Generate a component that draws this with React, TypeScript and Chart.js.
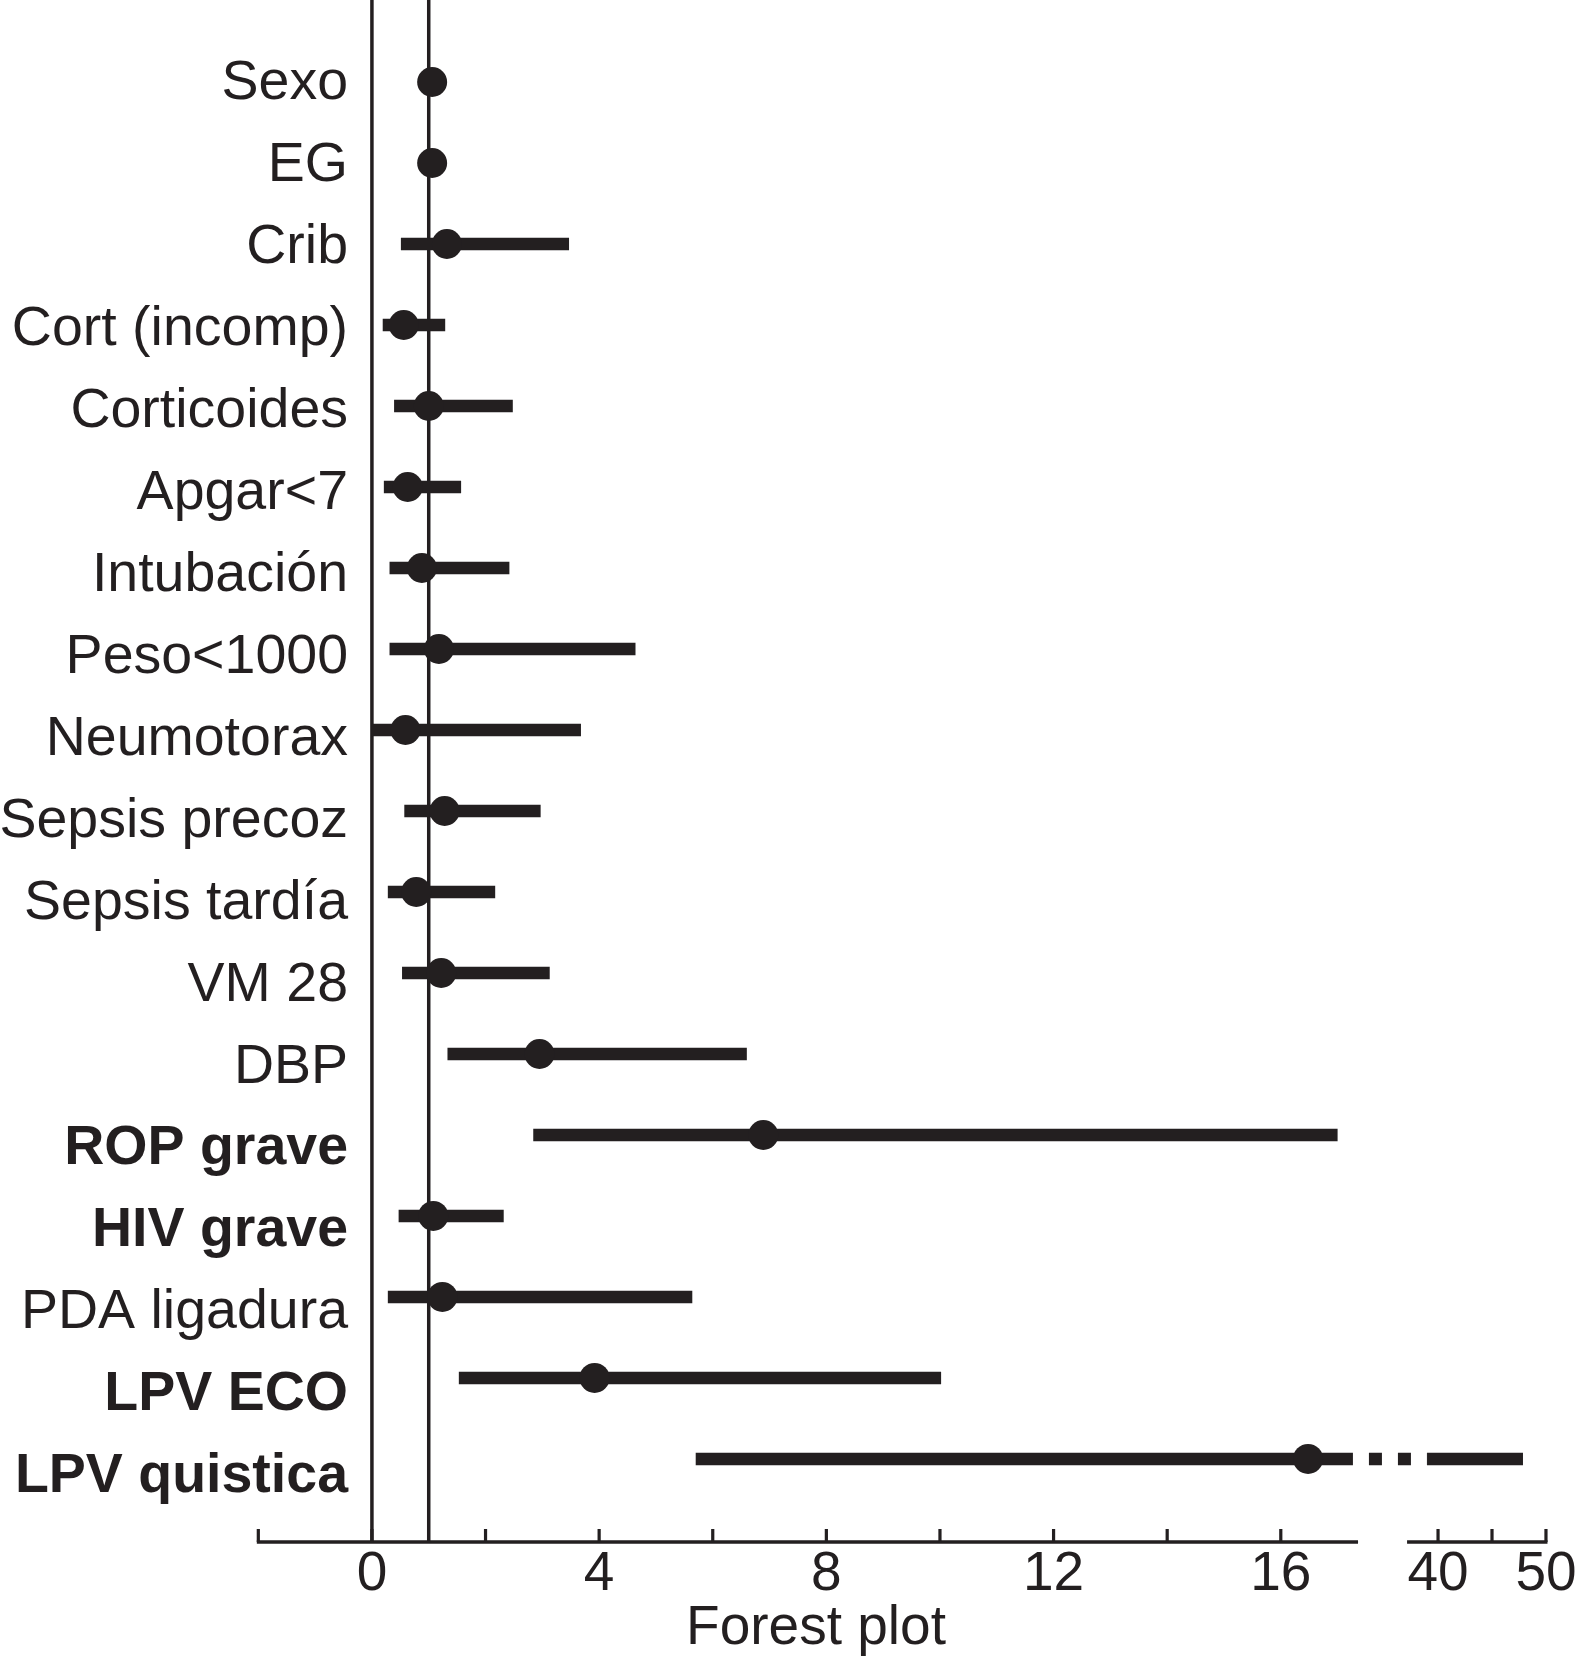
import React, { useEffect, useRef } from "react";
import { Chart, registerables, LinearScale } from "chart.js";

Chart.register(...registerables);

// ---------- data ----------
const ROWS = [
  "Sexo",
  "EG",
  "Crib",
  "Cort (incomp)",
  "Corticoides",
  "Apgar<7",
  "Intubación",
  "Peso<1000",
  "Neumotorax",
  "Sepsis precoz",
  "Sepsis tardía",
  "VM 28",
  "DBP",
  "ROP grave",
  "HIV grave",
  "PDA ligadura",
  "LPV ECO",
  "LPV quistica",
];
const BOLD_ROWS = ["ROP grave", "HIV grave", "LPV ECO", "LPV quistica"];

const POINT = [1.06, 1.06, 1.32, 0.56, 1.0, 0.63, 0.88, 1.18, 0.59, 1.28, 0.78, 1.22, 2.95, 6.89, 1.08, 1.24, 3.92, 16.48];
const LOWER = [0.95, 0.95, 0.51, 0.19, 0.39, 0.21, 0.31, 0.31, 0.0, 0.57, 0.28, 0.53, 1.33, 2.84, 0.47, 0.28, 1.53, 5.7];
const UPPER = [1.17, 1.17, 3.47, 1.29, 2.48, 1.57, 2.42, 4.64, 3.68, 2.97, 2.17, 3.13, 6.6, 17.0, 2.32, 5.64, 10.02, 47.87];

const X_TICKS = [-2, 0, 2, 4, 6, 8, 10, 12, 14, 16, 40, 45, 50];
const X_TICK_LABELS = [0, 4, 8, 12, 16, 40, 50];
const REF_LINES = [0, 1];
const X_TITLE = "Forest plot";

// broken axis: left piece ends at AXIS_BREAK[0], right piece starts at AXIS_BREAK[1]
const AXIS_BREAK = [17.36, 37.13];
const AXIS_END = 50;
const AXIS_START = -2;
// where the cut-off CI line turns into dashes
const LINE_BREAK = [17.27, 38.98];

// ---------- broken scale ----------
const GAP_U = 0.863; // width of the gap, in left-piece units
const RIGHT_RATIO = 0.19; // right-piece units per left-piece unit

function toU(v: number): number {
  if (v <= AXIS_BREAK[0]) return v;
  if (v >= AXIS_BREAK[1]) return AXIS_BREAK[0] + GAP_U + (v - AXIS_BREAK[1]) * RIGHT_RATIO;
  return AXIS_BREAK[0] + ((v - AXIS_BREAK[0]) / (AXIS_BREAK[1] - AXIS_BREAK[0])) * GAP_U;
}
function fromU(u: number): number {
  if (u <= AXIS_BREAK[0]) return u;
  if (u >= AXIS_BREAK[0] + GAP_U) return AXIS_BREAK[1] + (u - AXIS_BREAK[0] - GAP_U) / RIGHT_RATIO;
  return AXIS_BREAK[0] + ((u - AXIS_BREAK[0]) / GAP_U) * (AXIS_BREAK[1] - AXIS_BREAK[0]);
}

class BrokenLinearScale extends LinearScale {
  static id = "brokenLinear";
  static defaults = LinearScale.defaults;
  getPixelForValue(value: any) {
    if (value === null || value === undefined || isNaN(value)) return NaN;
    const a = toU((this as any).min);
    const b = toU((this as any).max);
    return (this as any).getPixelForDecimal((toU(value) - a) / (b - a));
  }
  getValueForPixel(pixel: number) {
    const a = toU((this as any).min);
    const b = toU((this as any).max);
    return fromU(a + (this as any).getDecimalForPixel(pixel) * (b - a));
  }
}
Chart.register(BrokenLinearScale as any);

const INK = "#231f20";
const FONT = '"Liberation Sans", Arial, Helvetica, sans-serif';
const LABEL_SIZE = 55.5;
const TICK_SIZE = 55;
const Y_AXIS_WIDTH = 72;
const LABEL_RIGHT = 348;

const axisPlugin = {
  id: "brokenAxis",
  beforeDatasetsDraw(chart: any) {
    const { ctx, chartArea, scales } = chart;
    const x = scales.x;
    ctx.save();
    ctx.strokeStyle = INK;
    ctx.lineWidth = 3.5;
    for (const v of REF_LINES) {
      const px = x.getPixelForValue(v);
      ctx.beginPath();
      ctx.moveTo(px, chartArea.top);
      ctx.lineTo(px, chartArea.bottom);
      ctx.stroke();
    }
    ctx.restore();
  },
  afterDraw(chart: any) {
    const { ctx, scales } = chart;
    const x = scales.x;
    const y0 = x.top;
    ctx.save();
    ctx.strokeStyle = INK;
    ctx.lineCap = "butt";
    ctx.lineWidth = 3.5;
    ctx.beginPath();
    ctx.moveTo(x.getPixelForValue(AXIS_START) - 1.5, y0);
    ctx.lineTo(x.getPixelForValue(AXIS_BREAK[0]), y0);
    ctx.moveTo(x.getPixelForValue(AXIS_BREAK[1]), y0);
    ctx.lineTo(x.getPixelForValue(AXIS_END) + 1.5, y0);
    ctx.stroke();
    ctx.lineWidth = 3.2;
    ctx.beginPath();
    for (const t of x.ticks) {
      const px = x.getPixelForValue(t.value);
      ctx.moveTo(px, y0);
      ctx.lineTo(px, y0 - 13);
    }
    ctx.stroke();
    ctx.restore();
  },
};

export default function App() {
  const ref = useRef<HTMLCanvasElement>(null);
  useEffect(() => {
    document.body.style.margin = "0";
    const ciData: any[] = [];
    const dashedStarts = new Set<number>();
    ROWS.forEach((_, i) => {
      ciData.push({ x: LOWER[i], y: i });
      if (UPPER[i] > LINE_BREAK[1]) {
        ciData.push({ x: LINE_BREAK[0], y: i });
        dashedStarts.add(ciData.length - 1);
        ciData.push({ x: LINE_BREAK[1], y: i });
      }
      ciData.push({ x: UPPER[i], y: i });
      ciData.push({ x: null, y: null });
    });
    const pointData = ROWS.map((_, i) => ({ x: POINT[i], y: i }));

    // widest label, so the mirrored, right-aligned labels end at LABEL_RIGHT
    const mctx = document.createElement("canvas").getContext("2d") as CanvasRenderingContext2D;
    let widest = 0;
    for (const r of ROWS) {
      mctx.font = `${BOLD_ROWS.includes(r) ? "bold " : ""}${LABEL_SIZE}px ${FONT}`;
      widest = Math.max(widest, mctx.measureText(r).width);
    }
    const labelPadding = LABEL_RIGHT - Y_AXIS_WIDTH - widest;

    Chart.defaults.font.family = FONT;
    Chart.defaults.color = INK;

    const chart = new Chart(ref.current as HTMLCanvasElement, {
      type: "line",
      data: {
        datasets: [
          {
            label: "OR",
            data: pointData,
            showLine: false,
            pointRadius: 15,
            pointHoverRadius: 15,
            pointBackgroundColor: INK,
            pointBorderWidth: 0,
            borderColor: INK,
            yAxisID: "y",
            xAxisID: "x",
          },
          {
            label: "IC",
            data: ciData,
            borderColor: INK,
            borderWidth: 12.5,
            pointRadius: 0,
            pointHoverRadius: 0,
            spanGaps: false,
            borderCapStyle: "butt",
            yAxisID: "y",
            xAxisID: "x",
            segment: {
              borderDash: (c: any) => (dashedStarts.has(c.p0DataIndex) ? [13, 16] : undefined),
              borderDashOffset: (c: any) => (dashedStarts.has(c.p0DataIndex) ? 13 : undefined),
            },
          } as any,
        ],
      },
      options: {
        responsive: false,
        animation: false,
        events: [],
        layout: { autoPadding: false, padding: { left: 0, right: 17, top: 0, bottom: 0 } },
        plugins: { legend: { display: false }, tooltip: { enabled: false } },
        scales: {
          x: {
            type: "brokenLinear" as any,
            position: "bottom",
            min: -5.28,
            max: 51.3,
            bounds: "data",
            grid: { display: false, drawTicks: false },
            border: { display: false },
            afterBuildTicks: (s: any) => {
              s.ticks = X_TICKS.map((v) => ({ value: v }));
            },
            afterFit: (s: any) => {
              s.height = 120;
            },
            ticks: {
              autoSkip: false,
              maxRotation: 0,
              minRotation: 0,
              padding: 0,
              labelOffset: 0,
              color: INK,
              font: { size: TICK_SIZE, family: FONT },
              callback: (v: any) => (X_TICK_LABELS.includes(v) ? String(v) : ""),
            },
            title: {
              display: true,
              text: X_TITLE,
              color: INK,
              font: { size: TICK_SIZE, family: FONT },
              padding: { top: 0, bottom: 0 },
            },
          } as any,
          y: {
            type: "linear",
            display: false,
            reverse: true,
            min: -1.0124,
            max: 18.025,
            bounds: "data",
          } as any,
          yl: {
            type: "linear",
            position: "left",
            reverse: true,
            min: -1.0251,
            max: 17.794,
            bounds: "data",
            grid: { display: false, drawTicks: false },
            border: { display: false },
            afterBuildTicks: (s: any) => {
              s.ticks = ROWS.map((_, i) => ({ value: i }));
            },
            afterFit: (s: any) => {
              s.width = Y_AXIS_WIDTH;
            },
            ticks: {
              autoSkip: false,
              mirror: true,
              crossAlign: "far",
              padding: labelPadding,
              color: INK,
              font: (c: any) => ({
                size: LABEL_SIZE,
                family: FONT,
                weight: BOLD_ROWS.includes(ROWS[c.index]) ? "bold" : "normal",
              }),
              callback: (v: any) => ROWS[v],
            },
          } as any,
        },
      },
      plugins: [axisPlugin],
    } as any);
    return () => chart.destroy();
  }, []);
  return (
    <canvas
      ref={ref}
      width={1577}
      height={1662}
      style={{ display: "block", width: "1577px", height: "1662px" }}
    />
  );
}
